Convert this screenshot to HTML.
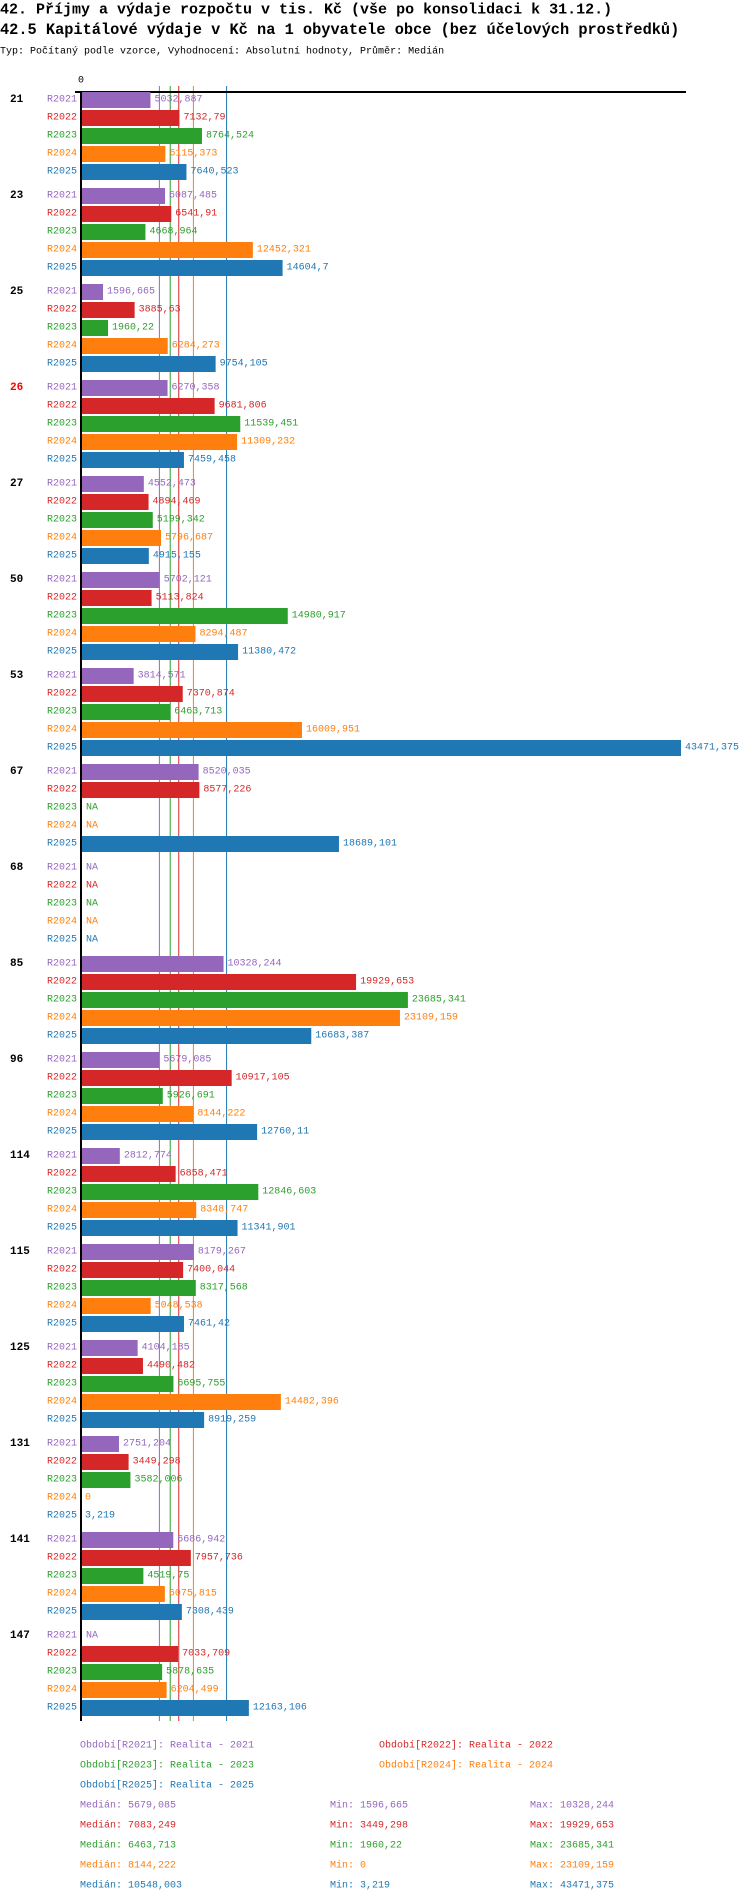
<!DOCTYPE html>
<html><head><meta charset="utf-8">
<style>
html,body{margin:0;padding:0;background:#fff;}
svg{display:block;font-family:"Liberation Mono","DejaVu Sans Mono",monospace;}
</style></head>
<body>
<svg id="chart" width="750" height="1904" viewBox="0 0 750 1904" xmlns="http://www.w3.org/2000/svg">
<text x="0" y="10" dominant-baseline="central" font-size="15" font-weight="bold">42. Příjmy a výdaje rozpočtu v tis. Kč (vše po konsolidaci k 31.12.)</text>
<text x="0" y="30" dominant-baseline="central" font-size="15.3" font-weight="bold">42.5 Kapitálové výdaje v Kč na 1 obyvatele obce (bez účelových prostředků)</text>
<text x="0" y="52" dominant-baseline="central" font-size="10">Typ: Počítaný podle vzorce, Vyhodnocení: Absolutní hodnoty, Průměr: Medián</text>
<g id="lines"></g>
<g id="bars"></g>
<g id="legend"></g>
</svg>
<script>
const groups = ["21","23","25","26","27","50","53","67","68","85","96","114","115","125","131","141","147"];
const series = ["R2021","R2022","R2023","R2024","R2025"];
const v2021 = [5032.887,6087.485,1596.665,6270.358,4552.473,5702.121,3814.571,8520.035,null,10328.244,5679.085,2812.774,8179.267,4104.185,2751.204,6686.942,null];
const v2022 = [7132.79,6541.91,3885.63,9681.806,4894.469,5113.824,7370.874,8577.226,null,19929.653,10917.105,6858.471,7400.044,4490.482,3449.298,7957.736,7033.709];
const v2023 = [8764.524,4668.964,1960.22,11539.451,5199.342,14980.917,6463.713,null,null,23685.341,5926.691,12846.603,8317.568,6695.755,3582.006,4519.75,5878.635];
const v2024 = [6115.373,12452.321,6284.273,11309.232,5796.687,8294.487,16009.951,null,null,23109.159,8144.222,8348.747,5048.538,14482.396,0,6075.815,6204.499];
const v2025 = [7640.523,14604.7,9754.105,7459.458,4915.155,11380.472,43471.375,18689.101,null,16683.387,12760.11,11341.901,7461.42,8919.259,3.219,7308.439,12163.106];
const medians = [5679.085,7083.249,6463.713,8144.222,10548.003];
const mins = [1596.665,3449.298,1960.22,0,3.219];
const maxs = [10328.244,19929.653,23685.341,23109.159,43471.375];
const legendLabels = ["Období[R2021]: Realita - 2021","Období[R2022]: Realita - 2022","Období[R2023]: Realita - 2023","Období[R2024]: Realita - 2024","Období[R2025]: Realita - 2025"];

const colors = ["#9467bd","#d62728","#2ca02c","#ff7f0e","#1f77b4"];
const allVals = [v2021,v2022,v2023,v2024,v2025];
const NS = "http://www.w3.org/2000/svg";
const x0 = 81, xMaxPx = 681;
const dataMax = Math.max(...allVals.flat().filter(v => v !== null));
function xs(v){ return x0 + v / dataMax * (xMaxPx - x0); }
function rowY(g, r){ return 100 + g * 96 + r * 18; }
function fmt(v){ let s = (Math.round(v*1000)/1000).toString(); return s.replace('.', ','); }
function mk(tag, attrs, parent){ const e = document.createElementNS(NS, tag); for (const k in attrs) e.setAttribute(k, attrs[k]); parent.appendChild(e); return e; }

const lines = document.getElementById('lines');
const bars = document.getElementById('bars');
const legend = document.getElementById('legend');
const yEnd = rowY(groups.length - 1, 4) + 13;

// median lines
medians.forEach((m, i) => {
  const l = mk('line', {x1: xs(m), x2: xs(m), y1: 86, y2: yEnd, stroke: colors[i], 'stroke-width': 1}, lines);
  
  
});
// axes
const ax = mk('line', {x1: 75, x2: 686, y1: 92, y2: 92, stroke: '#000', 'stroke-width': 2}, lines);


const zt = mk('text', {x: x0, y: 81, 'text-anchor': 'middle', 'dominant-baseline': 'central', 'font-size': 10}, lines);
zt.textContent = '0';



groups.forEach((gname, g) => {
  const gl = mk('text', {x: 10, y: rowY(g, 0), 'dominant-baseline': 'central', 'font-size': 11, 'font-weight': 'bold', fill: gname === '26' ? '#ff0000' : '#000'}, bars);
  gl.textContent = gname;
  
  
  series.forEach((s, r) => {
    const cy = rowY(g, r);
    const v = allVals[r][g];
    const rl = mk('text', {x: 77, y: cy, 'text-anchor': 'end', 'dominant-baseline': 'central', 'font-size': 10, fill: colors[r]}, bars);
    rl.textContent = s;
    
    
    let endX = x0 + 1;
    if (v !== null) {
      const b = mk('rect', {x: x0, y: cy - 8, width: Math.max(0, xs(v) - x0), height: 16, fill: colors[r]}, bars);
      
      
      endX = xs(v);
    }
    const vl = mk('text', {x: endX + 4, y: cy, 'dominant-baseline': 'central', 'font-size': 10, fill: colors[r]}, bars);
    vl.textContent = v === null ? 'NA' : fmt(v);
    
    
  });
});
const yAx = mk('line', {x1: x0, x2: x0, y1: 92, y2: yEnd, stroke: '#000', 'stroke-width': 2}, bars);



// legend
const legPos = [[80,1746],[379,1746],[80,1766],[379,1766],[80,1786]];
legendLabels.forEach((t, i) => {
  const e = mk('text', {x: legPos[i][0], y: legPos[i][1], 'dominant-baseline': 'central', 'font-size': 10, fill: colors[i]}, legend);
  e.textContent = t;
  
  
});
series.forEach((s, i) => {
  const y = 1806 + i * 20;
  const a = mk('text', {x: 80, y: y, 'dominant-baseline': 'central', 'font-size': 10, fill: colors[i]}, legend);
  a.textContent = 'Medián: ' + fmt(medians[i]);
  
  
  const b = mk('text', {x: 330, y: y, 'dominant-baseline': 'central', 'font-size': 10, fill: colors[i]}, legend);
  b.textContent = 'Min: ' + fmt(mins[i]);
  
  
  const c = mk('text', {x: 530, y: y, 'dominant-baseline': 'central', 'font-size': 10, fill: colors[i]}, legend);
  c.textContent = 'Max: ' + fmt(maxs[i]);
  
  
});
</script>
</body></html>
